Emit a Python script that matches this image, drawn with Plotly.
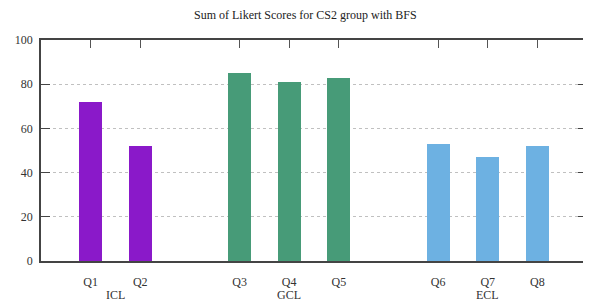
import plotly.graph_objects as go

questions = ["Q1", "Q2", "Q3", "Q4", "Q5", "Q6", "Q7", "Q8"]
positions = [1, 2, 4, 5, 6, 8, 9, 10]
scores = [72, 52, 85, 81, 83, 53, 47, 52]
groups = ["ICL", "ICL", "GCL", "GCL", "GCL", "ECL", "ECL", "ECL"]
group_names = ["ICL", "GCL", "ECL"]
group_centers = [1.5, 5, 9]
group_colors = {"ICL": "#8a19c9", "GCL": "#479b78", "ECL": "#6db1e2"}
y_ticks = [0, 20, 40, 60, 80, 100]

FONT = "'Liberation Serif', 'Times New Roman', serif"

fig = go.Figure()
fig.add_trace(go.Bar(
    x=positions, y=scores, width=0.46,
    marker=dict(color=[group_colors[g] for g in groups], line=dict(width=0)),
    showlegend=False,
))

for name, cx in zip(group_names, group_centers):
    fig.add_annotation(x=cx, y=-0.155, xref="x", yref="paper", text=name,
                       showarrow=False, yanchor="middle",
                       font=dict(family=FONT, size=12, color="#333333"))

# page body has an 8px margin; size the figure so the plot lands where the reference has it
fig.update_layout(
    width=583, height=294,
    margin=dict(l=33, r=2, t=32, b=41),
    paper_bgcolor="white", plot_bgcolor="white",
    title=dict(text="Sum of Likert Scores for CS2 group with BFS", x=0.51, xanchor="center",
               yref="container", y=0.992, yanchor="top", pad=dict(t=0, b=0),
               font=dict(family=FONT, size=12, color="#222222")),
    font=dict(family=FONT, size=12, color="#333333"),
    bargap=0,
)
fig.update_xaxes(
    range=[0, 11], tickvals=positions, ticktext=questions,
    ticks="inside", ticklen=8, tickwidth=1.2, tickcolor="#555555",
    showline=True, linecolor="#444444", linewidth=1.5, mirror="ticks",
    showgrid=False, zeroline=False, layer="below traces",
    ticklabelstandoff=9,
    tickfont=dict(family=FONT, size=12, color="#333333"),
)
fig.update_yaxes(
    range=[0, 100], tickvals=y_ticks,
    ticks="inside", ticklen=9, tickwidth=1.2, tickcolor="#444444",
    showline=True, linecolor="#444444", linewidth=1.5, mirror="ticks",
    showgrid=True, gridcolor="#c0c0c0", griddash="dot", gridwidth=1,
    zeroline=False, layer="below traces",
    ticklabelstandoff=4,
    tickfont=dict(family=FONT, size=12, color="#333333"),
)

fig.write_html("out.html")
